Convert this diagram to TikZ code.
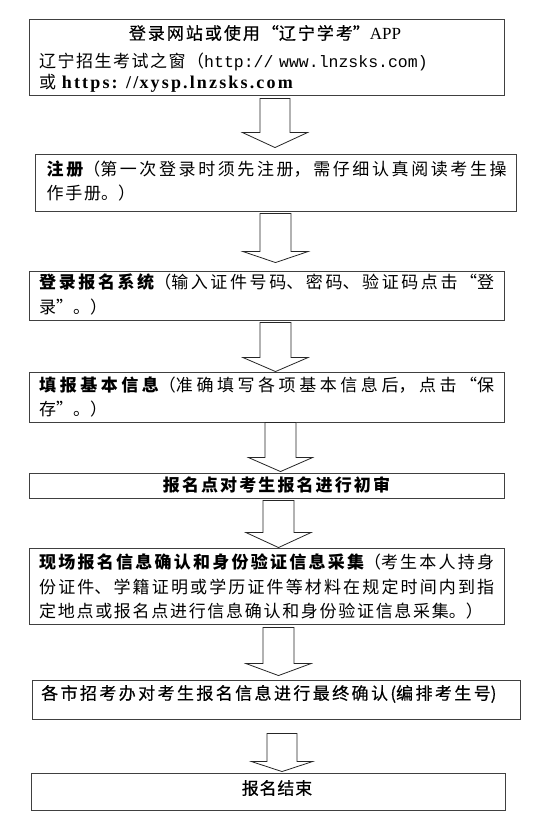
\documentclass[tikz,border=0pt]{standalone}
\usepackage{fontspec}
\usetikzlibrary{calc}
\setmainfont{Noto Sans CJK SC}
\newfontfamily\cjkmed[FakeBold=0.5]{Noto Sans CJK SC}
\newfontfamily\urlmono{Liberation Mono}
\newfontfamily\serifL{Liberation Serif}
\newfontfamily\urlbold[LetterSpace=12]{Liberation Serif}
\XeTeXlinebreaklocale "zh"
\XeTeXlinebreakskip=1.7pt plus 2pt minus 0.2pt
\newcommand\rigid[1]{\XeTeXlinebreakskip=#1pt\relax}
\newcommand\blockarrow[8]{% from,to,xc,shaft half,head half,top gap,tip gap,head length
  \draw[barrow] let \p1=(#1.south), \p2=(#2.north) in
    ({(#3-#4)*1pt},{\y1-#6pt}) -- ({(#3+#4)*1pt},{\y1-#6pt})
    -- ({(#3+#4)*1pt},{\y2+#7pt+#8pt}) -- ({(#3+#5)*1pt},{\y2+#7pt+#8pt})
    -- ({#3*1pt},{\y2+#7pt}) -- ({(#3-#5)*1pt},{\y2+#7pt+#8pt})
    -- ({(#3-#4)*1pt},{\y2+#7pt+#8pt}) -- cycle;}
\begin{document}
\begin{tikzpicture}[x=1pt,y=-1pt,
  box/.style={draw=black!75, line width=0.9pt, inner sep=0pt},
  barrow/.style={draw=black!85, line width=0.8pt, fill=white, line join=miter},
  txt/.style={inner sep=0pt, font=\fontsize{17}{24}\selectfont}]
\useasboundingbox (0,0) rectangle (540,822);
\fill[white] (0,0) rectangle (540,822);
% boxes
\node[box, minimum width=475pt, minimum height=76pt] (b1) at (266.5,57) {};
\node[box, minimum width=481pt, minimum height=57pt] (b2) at (275.5,182.5) {};
\node[box, minimum width=475pt, minimum height=49pt] (b3) at (266.5,295.5) {};
\node[box, minimum width=475pt, minimum height=50pt] (b4) at (266.5,397) {};
\node[box, minimum width=475pt, minimum height=25pt] (b5) at (266.5,485.5) {};
\node[box, minimum width=475pt, minimum height=76pt] (b6) at (266.5,586) {};
\node[box, minimum width=488pt, minimum height=39pt] (b7) at (276,699.5) {};
\node[box, minimum width=474pt, minimum height=37pt] (b8) at (268,791.5) {};
% texts
\node[txt, anchor=base, text width=340pt, align=center] (t1a) at (265,39.5)
  {\rigid{2.0}\cjkmed 登录网站或使用“辽宁学考”{\serifL APP}};
\node[txt, anchor=base west, text width=470pt, align=left] (t1b) at (39,67.5)
  {\rigid{1.5}辽宁招生考试之窗（{\urlmono\fontsize{16.5}{20}\selectfont http:// www.lnzsks.com)}};
\node[txt, anchor=base west, text width=470pt, align=left] (t1c) at (39,88.5)
  {\rigid{1.2}或 {\urlbold\bfseries\fontsize{18}{20}\selectfont https: //xysp.lnzsks.com}};
\node[txt, anchor=base west, text width=460pt, align=justify] (t2) at (46.5,175.5)
  {{\bfseries 注册}（第一次登录时须先注册，需仔细认真阅读考生操\linebreak 作手册。）};
\node[txt, anchor=base west, text width=455pt, align=justify, font=\fontsize{17}{25}\selectfont] (t3) at (39,288.5)
  {{\bfseries 登录报名系统}（输入证件号码、密码、验证码点击“登\linebreak 录”。）};
\node[txt, anchor=base west, text width=455pt, align=justify] (t4) at (39,391.5)
  {{\bfseries 填报基本信息}（准确填写各项基本信息后，点击“保\linebreak 存”。）};
\node[txt, anchor=base, text width=320pt, align=center] (t5) at (276.5,491.5)
  {\rigid{2.1}{\bfseries 报名点对考生报名进行初审}};
\node[txt, anchor=base west, text width=455pt, align=justify, font=\fontsize{17}{24.5}\selectfont] (t6) at (39,568.5)
  {{\bfseries 现场报名信息确认和身份验证信息采集}（考生本人持身\linebreak 份证件、学籍证明或学历证件等材料在规定时间内到指\linebreak 定地点或报名点进行信息确认和身份验证信息采集。）};
\node[txt, anchor=base west, text width=470pt, align=left] (t7) at (41,699.5)
  {\rigid{2.4}{\cjkmed 各市招考办对考生报名信息进行最终确认(编排考生号)}};
\node[txt, anchor=base, text width=200pt, align=center] (t8) at (277,794.5)
  {\rigid{0.8}{\cjkmed 报名结束}};
% block arrows
\blockarrow{b1}{b2}{275}{15}{32.5}{3}{6}{15}
\blockarrow{b2}{b3}{275.5}{15.5}{32.5}{2}{8}{11}
\blockarrow{b3}{b4}{275.5}{15.5}{32.5}{2}{0}{14}
\blockarrow{b4}{b5}{280.5}{15.5}{32}{0}{1}{14}
\blockarrow{b5}{b6}{278.5}{15.5}{32.5}{2}{0}{15}
\blockarrow{b6}{b7}{278.5}{15.5}{32.5}{3}{4}{12}
\blockarrow{b7}{b8}{282}{15}{30.5}{14}{1}{10}
\end{tikzpicture}
\end{document}
